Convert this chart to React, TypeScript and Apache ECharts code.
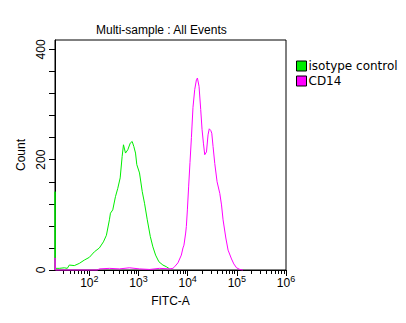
import React, { useEffect, useRef } from 'react';
import * as echarts from 'echarts';

const X_MIN = Math.log10(20);
const X_MAX = 6;
const Y_MAX = 417;

const titleText = 'Multi-sample : All Events';
const seriesNames = ['isotype control', 'CD14'];
const seriesColors = ['#00ee00', '#ff00ff'];

// x values are log10(FITC-A)
const greenLogX = [1.301, 1.301, 1.31, 1.388, 1.49, 1.551, 1.592, 1.694, 1.796, 1.898, 2.0, 2.102, 2.204, 2.286, 2.347, 2.408, 2.429, 2.476, 2.531, 2.578, 2.627, 2.667, 2.694, 2.735, 2.782, 2.831, 2.871, 2.904, 2.939, 2.965, 3.02, 3.076, 3.122, 3.178, 3.239, 3.292, 3.347, 3.414, 3.496, 3.565, 3.633];
const greenCount = [0, 142, 3, 3, 4, 3, 9, 8, 12, 18, 23, 33, 40, 51, 63, 91, 103, 109, 133, 148, 167, 206, 227, 212, 218, 230, 233, 224, 212, 191, 176, 142, 121, 91, 61, 42, 27, 15, 9, 6, 2];

const magLogX = [1.301, 1.301, 1.31, 2.163, 2.204, 2.408, 2.612, 2.816, 3.02, 3.224, 3.429, 3.633, 3.7, 3.735, 3.802, 3.871, 3.904, 3.924, 3.959, 3.973, 3.994, 4.02, 4.047, 4.076, 4.088, 4.108, 4.143, 4.178, 4.198, 4.231, 4.265, 4.292, 4.32, 4.347, 4.382, 4.414, 4.439, 4.469, 4.49, 4.516, 4.551, 4.598, 4.653, 4.688, 4.72, 4.776, 4.822, 4.892, 4.939, 4.994, 5.061, 5.122];
const magCount = [0, 22, 0, 0, 2, 3, 2, 4, 2, 1, 3, 2, 3, 6, 13, 27, 40, 45, 67, 79, 109, 152, 195, 240, 261, 295, 327, 345, 348, 333, 291, 255, 230, 209, 214, 245, 256, 253, 248, 224, 193, 160, 139, 118, 91, 58, 36, 20, 11, 4, 1, 0];

const xMajorTicks = [2, 3, 4, 5, 6];
const xMinorTicks: number[] = [];
for (let n = 1; n <= 5; n++) {
  for (let k = 2; k <= 9; k++) {
    const v = Math.log10(k * Math.pow(10, n));
    if (v > X_MIN + 0.01 && v < X_MAX) xMinorTicks.push(v);
  }
}
const yTicks = [0, 40, 80, 120, 160, 200, 240, 280, 320, 360, 400];
const yLabels = [0, 200, 400];

const FONT = 'Liberation Sans';

export default function App() {
  const ref = useRef<HTMLDivElement>(null);
  useEffect(() => {
    const chart = echarts.init(ref.current!, null, { renderer: 'svg' });
    const zip = (xs: number[], ys: number[]) => xs.map((x, i) => [x, ys[i]]);
    chart.setOption({
      animation: false,
      backgroundColor: '#fff',
      title: {
        text: titleText,
        left: 96,
        top: 24,
        padding: 0,
        textStyle: { fontSize: 12, fontWeight: 'normal', color: '#000', fontFamily: FONT },
      },
      legend: {
        orient: 'vertical',
        left: 296,
        top: 60,
        padding: 0,
        itemWidth: 10,
        itemHeight: 10,
        itemGap: 3,
        icon: 'rect',
        itemStyle: { borderColor: '#000', borderWidth: 1 },
        textStyle: { fontSize: 12, color: '#000', fontFamily: 'DejaVu Sans', padding: [0, 0, 0, -3] },
        data: seriesNames,
      },
      grid: {
        left: 55,
        top: 40,
        right: 120,
        bottom: 53,
        show: true,
        borderColor: '#000',
        borderWidth: 1,
        backgroundColor: 'transparent',
      },
      xAxis: [
        {
          type: 'value',
          min: X_MIN,
          max: X_MAX,
          position: 'bottom',
          splitLine: { show: false },
          axisLine: { show: true, lineStyle: { color: '#000', width: 1 } },
          axisTick: { show: true, inside: false, length: 6, customValues: xMajorTicks, lineStyle: { color: '#000' } },
          axisLabel: {
            customValues: xMajorTicks,
            margin: 4,
            color: '#000',
            formatter: (v: number) => `{b|10}{s|${Math.round(v)}}`,
            rich: {
              b: { fontSize: 12, fontFamily: FONT, color: '#000', lineHeight: 18 },
              s: { fontSize: 9, fontFamily: FONT, color: '#000', lineHeight: 18, verticalAlign: 'top' },
            },
          },
          name: 'FITC-A',
          nameLocation: 'middle',
          nameGap: 25,
          nameTextStyle: { fontSize: 12, color: '#000', fontFamily: FONT },
        },
        {
          type: 'value',
          min: X_MIN,
          max: X_MAX,
          position: 'bottom',
          splitLine: { show: false },
          axisLine: { show: false },
          axisTick: { show: true, inside: false, length: 4, customValues: xMinorTicks, lineStyle: { color: '#000' } },
          axisLabel: { show: false },
        },
      ],
      yAxis: {
        type: 'value',
        min: 0,
        max: Y_MAX,
        position: 'left',
        splitLine: { show: false },
        axisLine: { show: true, lineStyle: { color: '#000', width: 1 } },
        axisTick: { show: true, inside: false, length: 6, customValues: yTicks, lineStyle: { color: '#000', width: 1 } },
        axisLabel: {
          customValues: yLabels,
          rotate: 90,
          margin: 8,
          fontSize: 12,
          color: '#000',
          fontFamily: FONT,
        },
        name: 'Count',
        nameLocation: 'middle',
        nameGap: 26,
        nameTextStyle: { fontSize: 12, color: '#000', fontFamily: FONT },
      },
      series: [
        {
          name: seriesNames[0],
          type: 'line',
          color: seriesColors[0],
          showSymbol: false,
          symbol: 'none',
          clip: false,
          lineStyle: { width: 1, color: seriesColors[0] },
          data: zip(greenLogX, greenCount),
        },
        {
          name: seriesNames[1],
          type: 'line',
          color: seriesColors[1],
          showSymbol: false,
          symbol: 'none',
          clip: false,
          lineStyle: { width: 1, color: seriesColors[1] },
          data: zip(magLogX, magCount),
        },
      ],
    });
    return () => chart.dispose();
  }, []);
  return (
    <div
      ref={ref}
      style={{ position: 'fixed', left: 0, top: 0, width: 406, height: 323, background: '#fff' }}
    />
  );
}
